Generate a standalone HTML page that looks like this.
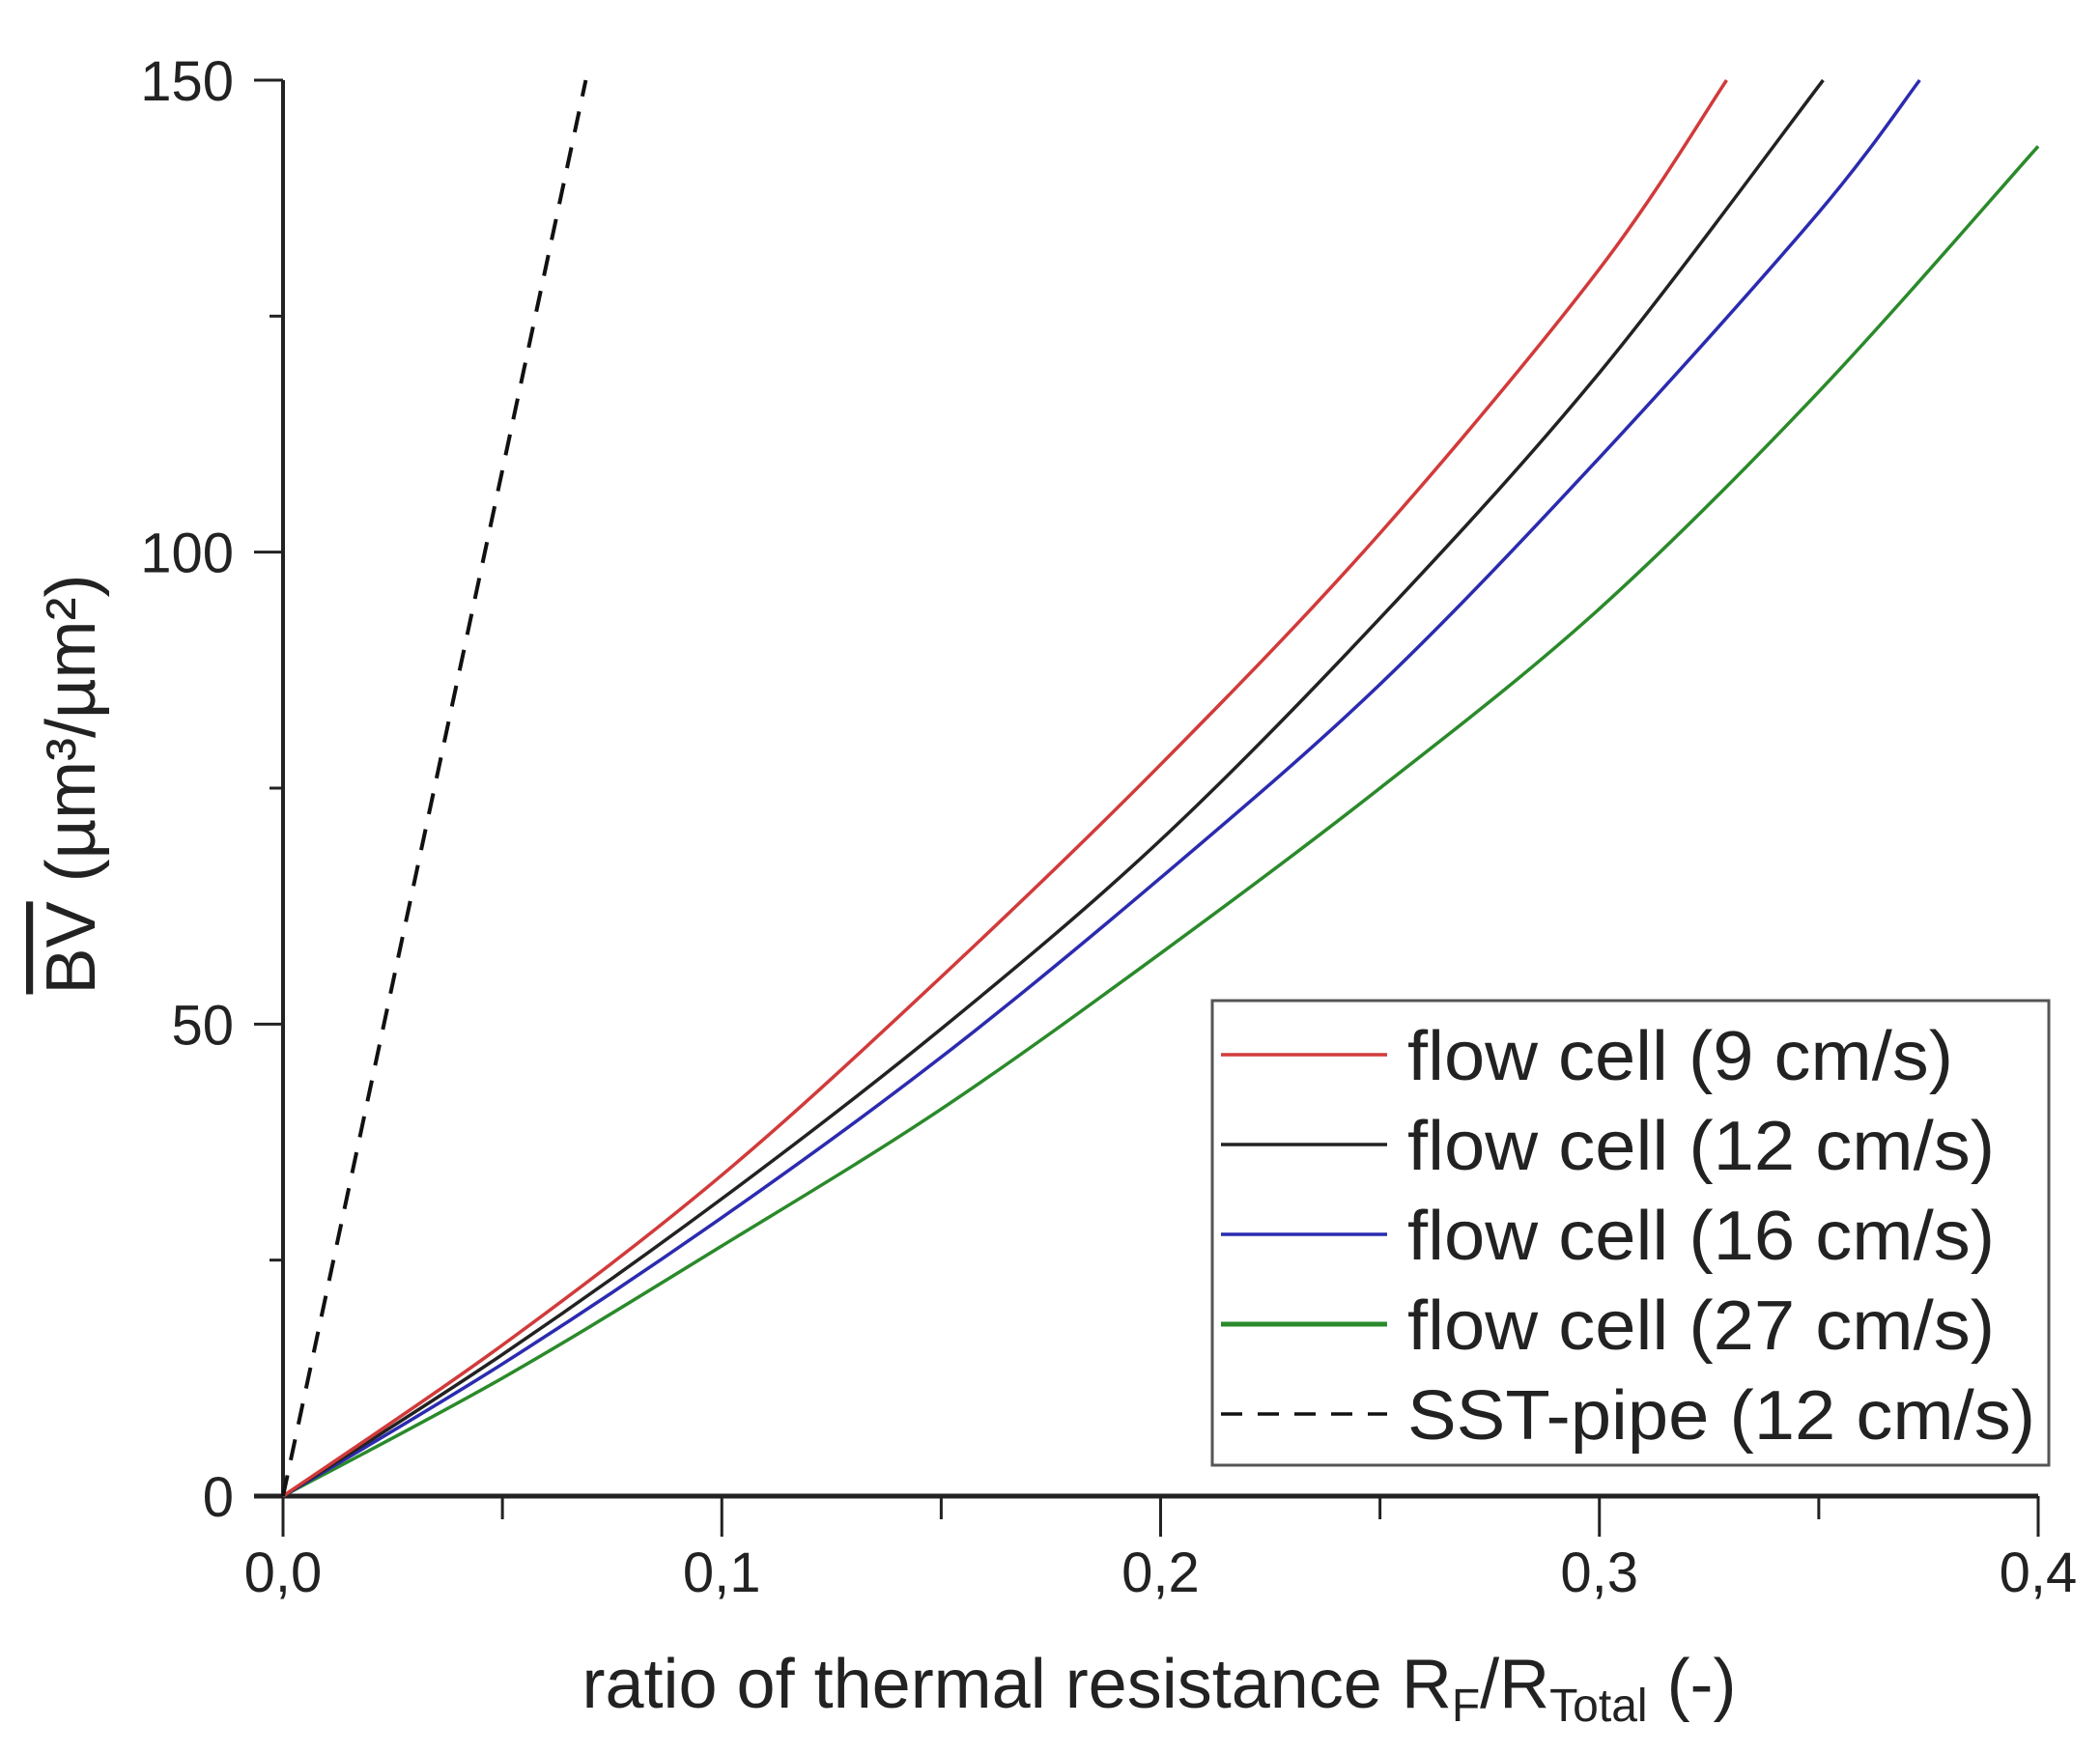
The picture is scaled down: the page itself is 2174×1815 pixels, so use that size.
<!DOCTYPE html>
<html><head><meta charset="utf-8"><style>
html,body{margin:0;padding:0;background:#fff;}
svg{display:block;font-family:"Liberation Sans",sans-serif;}
</style></head><body>
<svg id="chart" width="2174" height="1815" viewBox="0 0 2174 1815" xmlns="http://www.w3.org/2000/svg"></svg>
<script>
const xTicks=[0,0.1,0.2,0.3,0.4];
const xTickLabels=["0,0","0,1","0,2","0,3","0,4"];
const yTicks=[0,50,100,150];
const yTickLabels=["0","50","100","150"];
const redX=[0,0.05,0.1,0.15,0.2,0.25,0.3,0.329];
const redY=[0,16,34,55,77.5,102,130,150];
const blackX=[0,0.05,0.1,0.15,0.2,0.25,0.3,0.351];
const blackY=[0,15,31.5,49.5,69.5,93,119,150];
const blueX=[0,0.05,0.1,0.15,0.2,0.25,0.3,0.35,0.373];
const blueY=[0,14,29.5,46.5,65.5,86,110,136,150];
const greenX=[0,0.05,0.1,0.15,0.2,0.25,0.3,0.35,0.4];
const greenY=[0,12.5,26.5,41,57.5,75,94,117,143];
const sstX=[0,0.069];
const sstY=[0,150];
const legendLabels=["flow cell (9 cm/s)","flow cell (12 cm/s)","flow cell (16 cm/s)","flow cell (27 cm/s)","SST-pipe (12 cm/s)"];

const NS="http://www.w3.org/2000/svg";
const svg=document.getElementById('chart');
const X0=293,X1=2110,Y0=1549,Y1=83;
const sx=v=>X0+(v-0)/(0.4)*(X1-X0);
const sy=v=>Y0-(v/150)*(Y0-Y1);
function mk(tag,attrs,parent){const e=document.createElementNS(NS,tag);for(const k in attrs)e.setAttribute(k,attrs[k]);(parent||svg).appendChild(e);return e;}

let ax=mk('line',{x1:X0-30,y1:Y0,x2:X1,y2:Y0,stroke:'#222','stroke-width':5});


let ay=mk('line',{x1:X0,y1:Y0,x2:X0,y2:Y1,stroke:'#222','stroke-width':4});


for(let i=0;i<=8;i++){const v=i*0.05;const major=i%2===0;
 const t=mk('line',{x1:sx(v),y1:Y0,x2:sx(v),y2:Y0+(major?42:24),stroke:'#222','stroke-width':3});
 
 }
xTicks.forEach((v,i)=>{const t=mk('text',{x:sx(v),y:1648,'font-size':58,'text-anchor':'middle',fill:'#222'});t.textContent=xTickLabels[i];
 
 });
for(let i=0;i<=6;i++){const v=i*25;const major=i%2===0;
 const t=mk('line',{x1:X0,y1:sy(v),x2:X0-(major?30:14),y2:sy(v),stroke:'#222','stroke-width':3});
 
 }
yTicks.forEach((v,i)=>{const t=mk('text',{x:242,y:sy(v)+21,'font-size':58,'text-anchor':'end',fill:'#222'});t.textContent=yTickLabels[i];
 
 });

const xt=mk('text',{x:1200,y:1768,'font-size':72,'text-anchor':'middle',fill:'#222'});
xt.innerHTML='ratio of thermal resistance R<tspan baseline-shift="-30%" font-size="48">F</tspan>/R<tspan baseline-shift="-30%" font-size="48">Total</tspan> (-)';


const yt=mk('text',{x:0,y:0,'font-size':72,'text-anchor':'middle',fill:'#222',transform:'translate(98,812) rotate(-90)'});
yt.innerHTML='<tspan text-decoration="overline">BV</tspan> (µm³/µm²)';



function curve(xs,ys){const p=xs.map((x,i)=>[sx(x),sy(ys[i])]);let d='M'+p[0][0]+','+p[0][1];
 for(let i=0;i<p.length-1;i++){const a=p[Math.max(0,i-1)],b=p[i],c=p[i+1],e=p[Math.min(p.length-1,i+2)];
  d+=' C'+(b[0]+(c[0]-a[0])/6)+','+(b[1]+(c[1]-a[1])/6)+' '+(c[0]-(e[0]-b[0])/6)+','+(c[1]-(e[1]-b[1])/6)+' '+c[0]+','+c[1];}
 return d;}
const series=[[greenX,greenY,'#2a8a2a','series-27cms'],[blueX,blueY,'#2b2bb0','series-16cms'],[blackX,blackY,'#222','series-12cms'],[redX,redY,'#d23a3a','series-9cms']];
series.forEach(s=>{const p=mk('path',{d:curve(s[0],s[1]),fill:'none',stroke:s[2],'stroke-width':3.5});
 
 });
const sp=mk('path',{d:'M'+sx(sstX[0])+','+sy(sstY[0])+' L'+sx(sstX[1])+','+sy(sstY[1]),fill:'none',stroke:'#111','stroke-width':4,'stroke-dasharray':'22 16'});



const lg=mk('rect',{x:1255,y:1036,width:866,height:481,fill:'#fff',stroke:'#555','stroke-width':3});


const lc=['#d23a3a','#222','#2b2bb0','#2a8a2a','#111'];
legendLabels.forEach((l,i)=>{const y=1092+i*93;
 const ln=mk('line',{x1:1264,y1:y,x2:1436,y2:y,stroke:lc[i],'stroke-width':i===3?5:3.5,'stroke-dasharray':i===4?'22 16':'none'});
 
 
 const t=mk('text',{x:1457,y:y+26,'font-size':72,fill:'#222',textLength:(i===0?565:(i===4?650:608)),lengthAdjust:'spacingAndGlyphs'});t.textContent=l;
 
 });
</script>
</body></html>
